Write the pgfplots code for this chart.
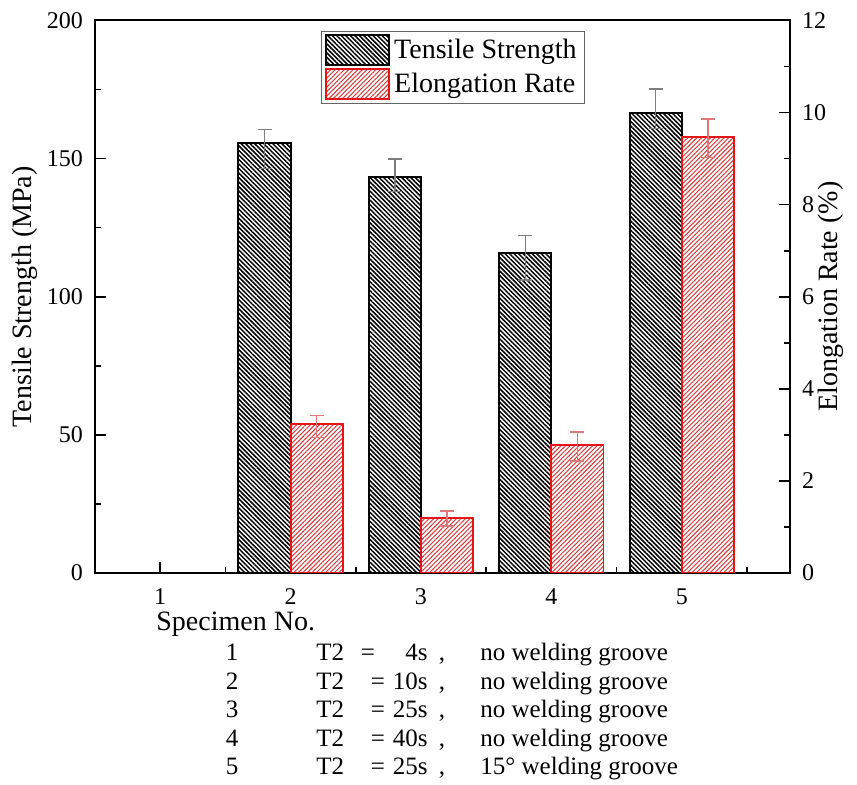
\documentclass[border=0pt]{standalone}
\usepackage{pgfplots}
\pgfplotsset{compat=1.18}
\usepackage{fontspec}
\setmainfont{Liberation Serif}
\usetikzlibrary{patterns.meta}
\definecolor{myred}{RGB}{230,20,20}
\definecolor{hred}{RGB}{214,70,70}
\definecolor{ered}{RGB}{225,120,120}
\definecolor{egray}{RGB}{125,125,125}
\begin{document}
\begin{tikzpicture}
\useasboundingbox (0,0) rectangle (428.5pt,-392.5pt);
\pgfplotsset{
  common/.style={
    at={(47.5pt,-286.5pt)}, anchor=south west,
    scale only axis, width=347.5pt, height=276.25pt,
    xmin=0.5, xmax=5.83,
    tick align=inside,
    major tick length=5.5pt, minor tick length=3pt,
    axis line style={line width=1pt},
    every tick/.style={black, line width=0.8pt},
    ticklabel style={font=\fontsize{12}{14}\selectfont},
    /pgf/number format/assume math mode=true,
    label style={font=\fontsize{14}{16}\selectfont},
  }
}
\begin{axis}[common,
  ymin=0, ymax=200,
  xtick={1,2,3,4,5}, minor xtick={1.5,2.5,3.5,4.5,5.5},
  ytick={0,50,100,150,200}, minor ytick={25,75,125,175},
  xtick pos=bottom, ytick pos=left,
  xticklabel style={yshift=-4.5pt}, yticklabel style={xshift=-2.5pt},
  ylabel={Tensile Strength (MPa)},
  ylabel style={at={(axis description cs:-0.1007,0.5)}, anchor=center},
]
\addplot[ybar, bar width=0.4, bar shift=0, draw=black, line width=1pt,
  pattern={Lines[angle=-45,distance=1.6pt,line width=0.75pt]}, pattern color=black,
  error bars/.cd, y dir=both, y explicit,
  error bar style={egray, line width=0.7pt},
  error mark options={rotate=90, egray, mark size=3.5pt, line width=0.7pt}]
coordinates {
  (1.8,155.5) += (0,5.1) -= (0,9.0)
  (2.8,143.2) += (0,6.7) -= (0,5.2)
  (3.8,116.0) += (0,6.2) -= (0,10.0)
  (4.8,166.4) += (0,8.8) -= (0,5.4)
};
\end{axis}
\begin{axis}[common,
  ymin=0, ymax=12,
  axis y line*=right, axis x line=none,
  ytick={0,2,4,6,8,10,12}, minor ytick={1,3,5,7,9,11},
  yticklabel style={xshift=2.5pt},
  ylabel={Elongation Rate (\%)},
  ylabel style={at={(axis description cs:1.0590,0.5)}, anchor=center, rotate=0},
  legend style={at={(axis description cs:0.3247,0.9815)}, anchor=north west,
    draw=black!60, line width=0.5pt, font=\fontsize{14}{16}\selectfont,
    inner xsep=2pt, inner ysep=1.5pt, row sep=1pt, cells={anchor=west}},
]
\addlegendimage{legend image code/.code={\draw[black, line width=1pt,
  pattern={Lines[angle=-45,distance=1.6pt,line width=0.75pt]}, pattern color=black]
  (0pt,-7.5pt) rectangle (31.5pt,7.5pt);}}
\addlegendentry{Tensile Strength}
\addplot[ybar, bar width=0.4, bar shift=0, draw=myred, line width=0.9pt,
  pattern={Lines[angle=45,distance=1.6pt,line width=0.55pt]}, pattern color=hred,
  legend image code/.code={\draw[myred, line width=0.9pt,
  pattern={Lines[angle=45,distance=1.6pt,line width=0.55pt]}, pattern color=hred]
  (0pt,-7.5pt) rectangle (31.5pt,7.5pt);},
  error bars/.cd, y dir=both, y explicit,
  error bar style={ered, line width=0.7pt},
  error mark options={rotate=90, ered, mark size=3.5pt, line width=0.7pt}]
coordinates {
  (2.2,3.24) += (0,0.18) -= (0,0.30)
  (3.2,1.20) += (0,0.15) -= (0,0.18)
  (4.2,2.78) += (0,0.28) -= (0,0.35)
  (5.2,9.47) += (0,0.39) -= (0,0.45)
};
\addlegendentry{Elongation Rate}
\end{axis}
% specimen description block
\node[anchor=base west, inner sep=0pt, font=\fontsize{14}{16}\selectfont] at (78pt,-315.5pt) {Specimen No.};
\begin{scope}[every node/.style={font=\fontsize{12.5}{15}\selectfont, inner sep=0pt}]
\foreach \n/\yy/\ex/\val/\desc in {1/-330.5/184/4s/no welding groove,
  2/-344.75/189/10s/no welding groove,
  3/-359/189/25s/no welding groove,
  4/-373.25/189/40s/no welding groove,
  5/-387.5/189/25s/15° welding groove}{
  \node[anchor=base] at (116pt,\yy pt) {\n};
  \node[anchor=base west] at (158pt,\yy pt) {T2};
  \node[anchor=base] at (\ex pt,\yy pt) {=};
  \node[anchor=base east] at (214pt,\yy pt) {\val};
  \node[anchor=base] at (221pt,\yy pt) {,};
  \node[anchor=base west] at (240pt,\yy pt) {\desc};
}
\end{scope}
\end{tikzpicture}
\end{document}
